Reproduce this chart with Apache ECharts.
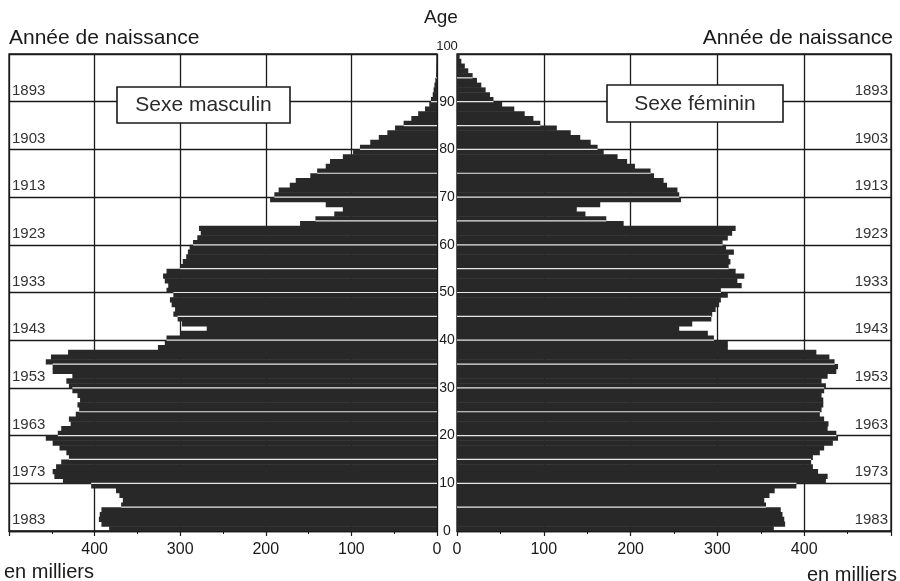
<!DOCTYPE html>
<html>
<head>
<meta charset="utf-8">
<script src="https://cdn.jsdelivr.net/npm/echarts@6/dist/echarts.min.js"></script>
<style>
html,body{margin:0;padding:0;background:#fff;}
#c{width:900px;height:581px;}
</style>
</head>
<body>
<div id="c"></div>
<script>
// ---- data (population in thousands, by age in completed years 0..99) ----
const ages = Array.from({length: 100}, (_, i) => i);
const men = [
  383, 392, 395, 394, 392, 369, 367, 371, 375, 404,
  437, 447, 449, 445, 439, 430, 433, 441, 449, 457,
  443, 439, 428, 430, 422, 418, 420, 417, 420, 426,
  430, 433, 426, 449, 449, 457, 451, 431, 326, 318,
  316, 300, 269, 298, 303, 308, 306, 310, 312, 308,
  316, 314, 318, 320, 316, 300, 297, 293, 291, 289,
  285, 280, 276, 278, 160, 142, 120, 110, 130, 195,
  190, 185, 172, 165, 148, 140, 130, 125, 110, 98,
  90, 78, 68, 58, 49, 39, 30, 22, 14, 9,
  7, 5, 4, 3, 2, 1, 0.6, 0.4, 0.2, 0.1
];
const women = [
  365, 378, 377, 375, 373, 356, 354, 360, 366, 391,
  425, 427, 416, 410, 408, 410, 418, 423, 433, 439,
  437, 427, 428, 423, 418, 420, 422, 422, 420, 423,
  425, 420, 427, 437, 439, 435, 429, 414, 312, 312,
  296, 289, 256, 271, 293, 294, 298, 302, 304, 312,
  304, 328, 323, 331, 321, 313, 315, 313, 319, 310,
  306, 312, 317, 321, 192, 172, 148, 138, 165, 258,
  256, 254, 242, 238, 227, 223, 205, 196, 185, 169,
  162, 154, 142, 131, 115, 96, 88, 78, 66, 52,
  42, 38, 33, 28, 23, 18, 13, 9, 5, 3
];
const birthYearLabels = [1893, 1903, 1913, 1923, 1933, 1943, 1953, 1963, 1973, 1983];
const populationTicks = [0, 100, 200, 300, 400];

// ---- style ----
const FONT = '"Liberation Sans", Arial, Helvetica, sans-serif';
const INK = '#1a1a1a';
const BAR = '#282828';

function makeRender(vals) {
  return function (params, api) {
    const i = params.dataIndex;
    const v = api.value(0), a = api.value(1);
    const p0 = api.coord([0, a]);
    const p1 = api.coord([v, a + 1]);
    const x = Math.min(p0[0], p1[0]);
    const w = Math.abs(p1[0] - p0[0]);
    const children = [{
      type: 'rect',
      shape: {x: x, y: p1[1], width: w, height: p0[1] - p1[1] + 0.5},
      style: {fill: BAR}
    }];
    if (a % 5 === 0 && i > 0) {
      const m = Math.min(v, vals[i - 1]);
      const q = api.coord([m, a]);
      children.push({
        type: 'line',
        shape: {x1: p0[0], y1: p0[1], x2: q[0], y2: p0[1]},
        style: {stroke: '#e6e6e6', lineWidth: 1.2}
      });
    }
    return {type: 'group', children: children};
  };
}

function xAxisCfg(gridIndex, inverse) {
  return {
    type: 'value', gridIndex: gridIndex, min: 0, max: 500, interval: 100, inverse: inverse,
    axisLine: {show: true, lineStyle: {color: INK, width: 1.3}},
    axisTick: {show: true, length: 5, lineStyle: {color: INK, width: 1.2}},
    minorTick: {show: true, splitNumber: 2, length: 3, lineStyle: {color: INK, width: 1}},
    axisLabel: {
      margin: 11, fontSize: 16, color: INK, fontFamily: FONT,
      showMinLabel: true, showMaxLabel: true,
      formatter: v => populationTicks.indexOf(v) >= 0 ? String(v) : ''
    },
    splitLine: {show: true, lineStyle: {color: INK, width: 1.3}}
  };
}

function ageAxisCfg(gridIndex, position, showLabels) {
  return {
    type: 'value', gridIndex: gridIndex, min: 0, max: 100, interval: 10, position: position,
    axisLine: {show: false}, axisTick: {show: false},
    axisLabel: {
      show: showLabels, margin: 10, align: 'center', fontSize: 14, color: INK, fontFamily: FONT,
      showMinLabel: true, showMaxLabel: true,
      formatter: v => v === 100 ? '{t|100}' : String(v),
      rich: {t: {fontSize: 13, color: INK, fontFamily: FONT, padding: [0, 0, 16, 0]}}
    },
    splitLine: {show: true, lineStyle: {color: INK, width: 1.3}}
  };
}

function yearAxisCfg(gridIndex, position) {
  return {
    type: 'value', gridIndex: gridIndex, min: 1885.3, max: 1985.3, inverse: true, position: position,
    axisLine: {show: false}, axisTick: {show: false}, splitLine: {show: false},
    axisLabel: {
      inside: true, margin: 3, fontSize: 15, color: '#333', fontFamily: FONT,
      customValues: birthYearLabels,
      formatter: v => String(Math.round(v))
    }
  };
}

const chart = echarts.init(document.getElementById('c'), null, {renderer: 'canvas'});
chart.setOption({
  backgroundColor: '#fff',
  animation: false,
  grid: [
    {left: 9, top: 54, width: 428, height: 477, show: true, borderColor: INK, borderWidth: 1.3, containLabel: false},
    {left: 457, top: 54, width: 434, height: 477, show: true, borderColor: INK, borderWidth: 1.3, containLabel: false}
  ],
  xAxis: [xAxisCfg(0, true), xAxisCfg(1, false)],
  yAxis: [
    ageAxisCfg(0, 'right', true),
    yearAxisCfg(0, 'left'),
    ageAxisCfg(1, 'left', false),
    yearAxisCfg(1, 'right')
  ],
  series: [
    {
      name: 'Sexe masculin', type: 'custom', xAxisIndex: 0, yAxisIndex: 0,
      renderItem: makeRender(men), encode: {x: 0, y: 1}, clip: true, silent: true,
      data: men.map((v, i) => [v, ages[i]])
    },
    {
      name: 'Sexe féminin', type: 'custom', xAxisIndex: 1, yAxisIndex: 2,
      renderItem: makeRender(women), encode: {x: 0, y: 1}, clip: true, silent: true,
      data: women.map((v, i) => [v, ages[i]])
    }
  ],
  graphic: [
    {type: 'text', x: 441, y: 18, z: 100, style: {text: 'Age', fill: INK, font: '19px ' + FONT, align: 'center', textAlign: 'center', verticalAlign: 'middle', textVerticalAlign: 'middle'}},
    {type: 'text', x: 9, y: 38, z: 100, style: {text: 'Année de naissance', fill: INK, font: '21px ' + FONT, align: 'left', textAlign: 'left', verticalAlign: 'middle', textVerticalAlign: 'middle'}},
    {type: 'text', x: 893, y: 38, z: 100, style: {text: 'Année de naissance', fill: INK, font: '21px ' + FONT, align: 'right', textAlign: 'right', verticalAlign: 'middle', textVerticalAlign: 'middle'}},
    {type: 'text', x: 4, y: 572, z: 100, style: {text: 'en milliers', fill: INK, font: '20px ' + FONT, align: 'left', textAlign: 'left', verticalAlign: 'middle', textVerticalAlign: 'middle'}},
    {type: 'text', x: 897, y: 575, z: 100, style: {text: 'en milliers', fill: INK, font: '20px ' + FONT, align: 'right', textAlign: 'right', verticalAlign: 'middle', textVerticalAlign: 'middle'}},
    {type: 'rect', z: 100, shape: {x: 117, y: 87, width: 173, height: 36}, style: {fill: '#fff', stroke: INK, lineWidth: 1.6}},
    {type: 'text', x: 203.5, y: 105.5, z: 101, style: {text: 'Sexe masculin', fill: '#2a2a2a', font: '21px ' + FONT, align: 'center', textAlign: 'center', verticalAlign: 'middle', textVerticalAlign: 'middle'}},
    {type: 'rect', z: 100, shape: {x: 607, y: 85, width: 176, height: 37}, style: {fill: '#fff', stroke: INK, lineWidth: 1.6}},
    {type: 'text', x: 695, y: 104, z: 101, style: {text: 'Sexe féminin', fill: '#2a2a2a', font: '21px ' + FONT, align: 'center', textAlign: 'center', verticalAlign: 'middle', textVerticalAlign: 'middle'}}
  ]
});
</script>
</body>
</html>
